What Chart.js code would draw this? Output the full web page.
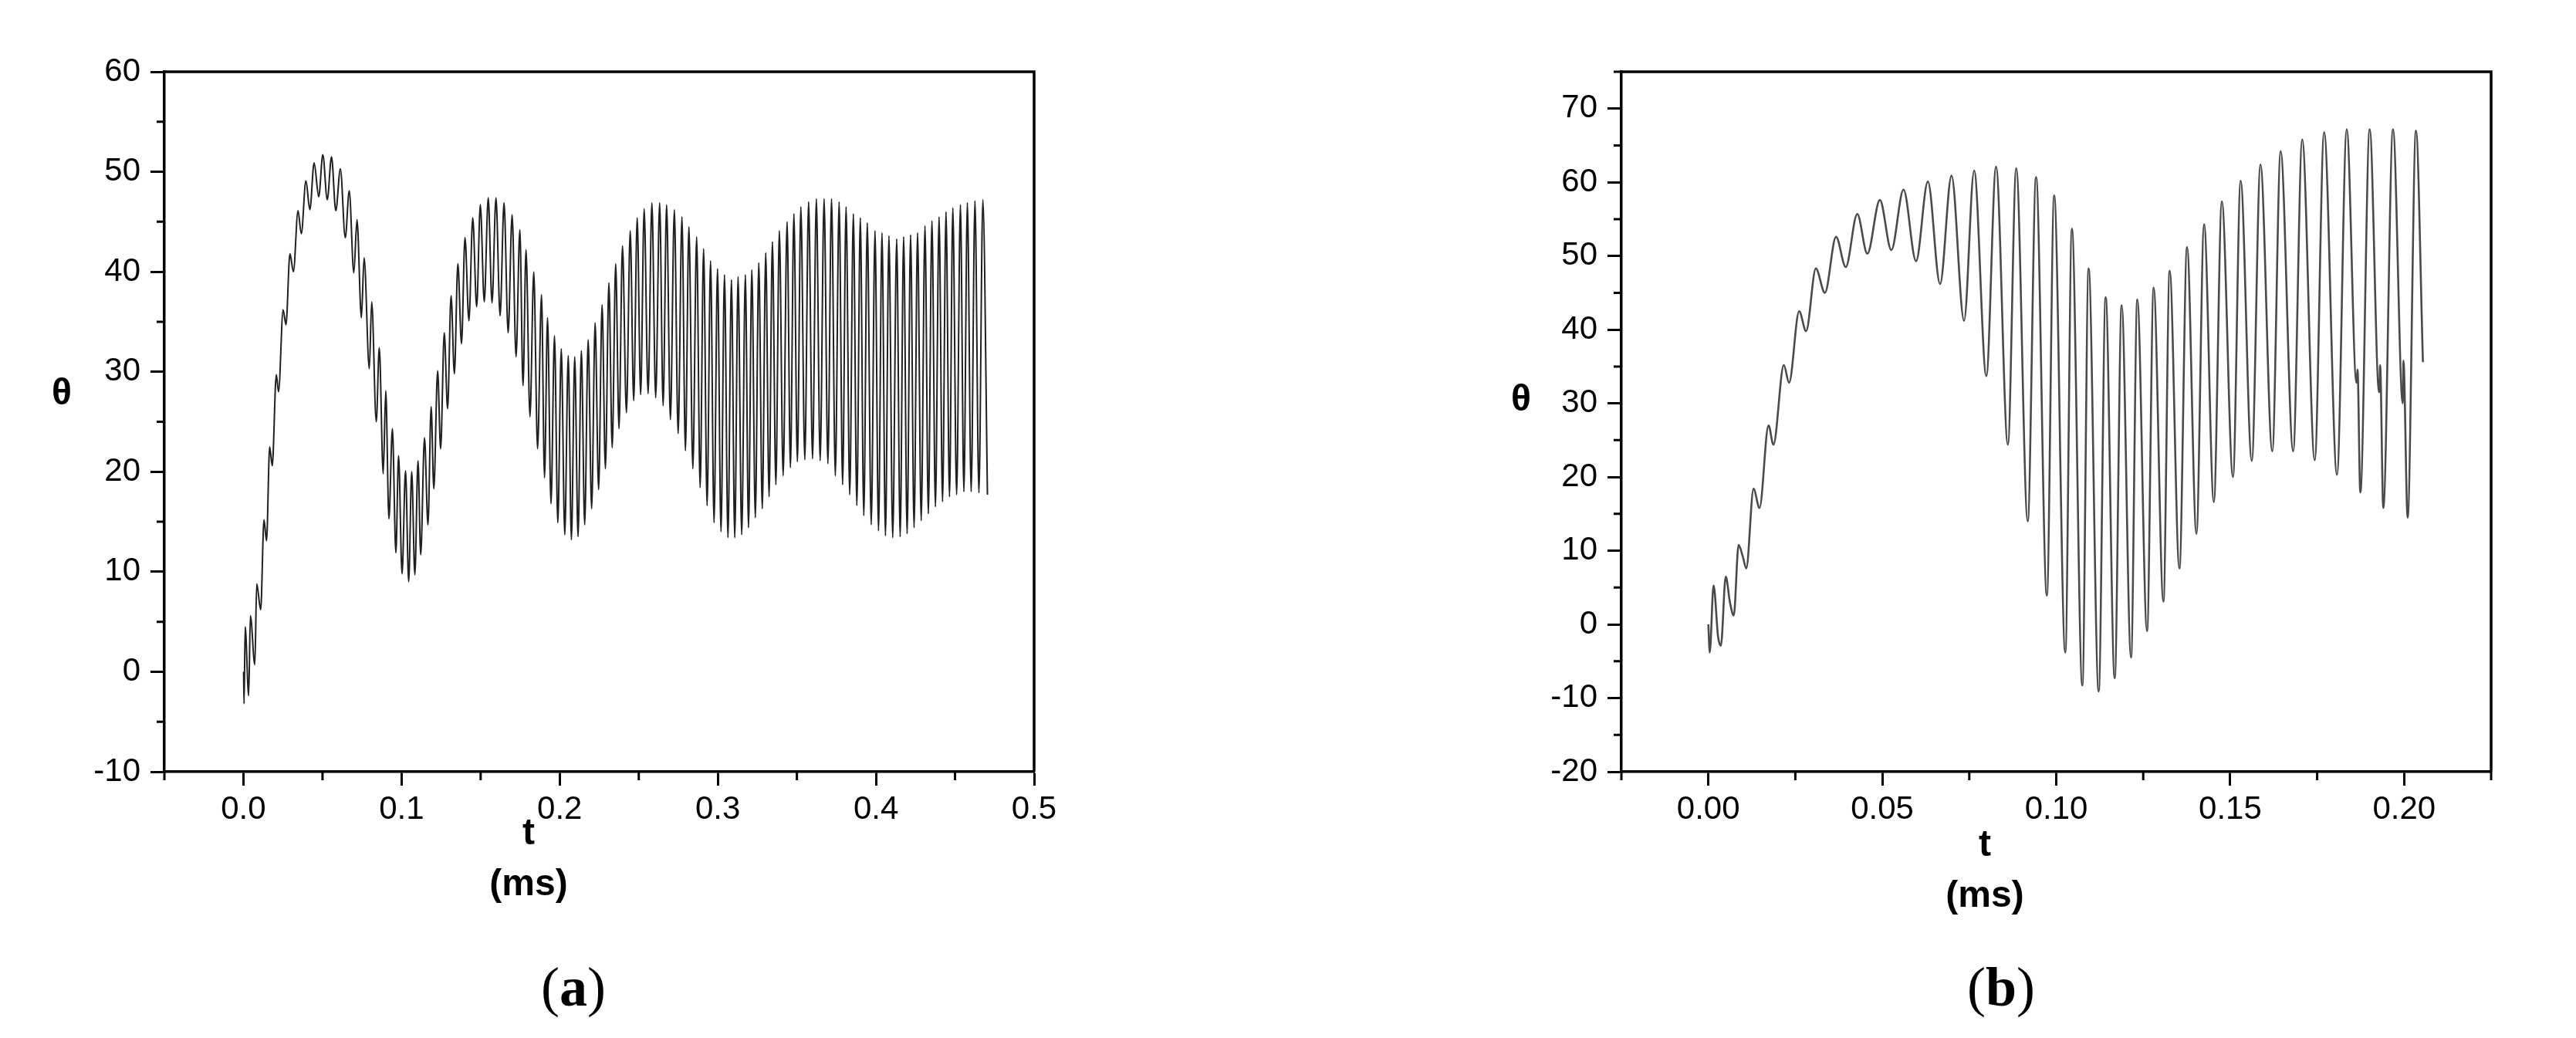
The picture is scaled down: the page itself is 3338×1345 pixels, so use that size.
<!DOCTYPE html>
<html>
<head>
<meta charset="utf-8">
<script src="https://cdn.jsdelivr.net/npm/chart.js@4.4.1/dist/chart.umd.min.js"></script>
<style>
  body { margin: 0; background: #fff; }
  #page { position: relative; width: 3338px; height: 1345px; overflow: hidden; background: #fff; }
  canvas { position: absolute; top: 0; }
  .lbl { position: absolute; font-family: 'Liberation Sans', Arial, sans-serif; font-weight: bold; font-size: 48px; color: #000; transform: translate(-50%, -50%); line-height: 1; white-space: nowrap; }
  .xt { text-align: center; line-height: 66px; transform: translateX(-50%); }
  .cap { position: absolute; font-family: 'Liberation Serif', 'Times New Roman', serif; font-size: 72px; color: #000; transform: translate(-50%, -50%); line-height: 1; }
</style>
</head>
<body>
<div id="page">
  <canvas id="chartA" width="1400" height="1120" style="left:0"></canvas>
  <canvas id="chartB" width="1420" height="1120" style="left:1860px"></canvas>
  <div class="lbl" style="left:80px;top:508px">θ</div>
  <div class="lbl xt" style="left:685px;top:1045px">t<br>(ms)</div>
  <div class="lbl" style="left:1971px;top:516px">θ</div>
  <div class="lbl xt" style="left:2572px;top:1060px">t<br>(ms)</div>
  <div class="cap" style="left:743px;top:1279px">(<b>a</b>)</div>
  <div class="cap" style="left:2593px;top:1279px">(<b>b</b>)</div>
</div>
<script>
// (a) time in ms, theta (peaks and troughs)
const timeA = [0.0001, 0.0004, 0.0011, 0.0033, 0.0044, 0.0072, 0.0084, 0.0109, 0.0130, 0.0146,
  0.0166, 0.0182, 0.0208, 0.0222, 0.0251, 0.0269, 0.0294, 0.0316, 0.0345, 0.0366,
  0.0395, 0.0420, 0.0447, 0.0476, 0.0502, 0.0530, 0.0557, 0.0584, 0.0613, 0.0644,
  0.0669, 0.0698, 0.0718, 0.0746, 0.0763, 0.0796, 0.0811, 0.0840, 0.0859, 0.0884,
  0.0900, 0.0920, 0.0942, 0.0964, 0.0981, 0.1003, 0.1025, 0.1045, 0.1064, 0.1084,
  0.1104, 0.1121, 0.1145, 0.1167, 0.1187, 0.1204, 0.1228, 0.1247, 0.1270, 0.1291,
  0.1313, 0.1334, 0.1356, 0.1379, 0.1401, 0.1426, 0.1450, 0.1475, 0.1498, 0.1523,
  0.1548, 0.1572, 0.1597, 0.1623, 0.1648, 0.1674, 0.1699, 0.1724, 0.1748, 0.1768,
  0.1787, 0.1812, 0.1836, 0.1860, 0.1885, 0.1904, 0.1923, 0.1945, 0.1967, 0.1988,
  0.2010, 0.2032, 0.2054, 0.2074, 0.2095, 0.2116, 0.2137, 0.2158, 0.2180, 0.2202,
  0.2224, 0.2246, 0.2268, 0.2289, 0.2311, 0.2332, 0.2354, 0.2375, 0.2397, 0.2422,
  0.2446, 0.2468, 0.2490, 0.2512, 0.2534, 0.2559, 0.2583, 0.2607, 0.2632, 0.2654,
  0.2676, 0.2700, 0.2725, 0.2749, 0.2773, 0.2795, 0.2817, 0.2842, 0.2866, 0.2888,
  0.2910, 0.2932, 0.2954, 0.2976, 0.2998, 0.3020, 0.3042, 0.3064, 0.3086, 0.3107,
  0.3128, 0.3151, 0.3174, 0.3194, 0.3215, 0.3237, 0.3259, 0.3281, 0.3303, 0.3324,
  0.3345, 0.3367, 0.3389, 0.3413, 0.3438, 0.3459, 0.3481, 0.3503, 0.3525, 0.3550,
  0.3574, 0.3599, 0.3623, 0.3647, 0.3672, 0.3696, 0.3719, 0.3743, 0.3767, 0.3789,
  0.3811, 0.3834, 0.3857, 0.3879, 0.3901, 0.3923, 0.3945, 0.3970, 0.3994, 0.4016,
  0.4038, 0.4060, 0.4082, 0.4106, 0.4131, 0.4153, 0.4175, 0.4197, 0.4219, 0.4241,
  0.4263, 0.4286, 0.4310, 0.4331, 0.4354, 0.4376, 0.4399, 0.4421, 0.4443, 0.4465,
  0.4486, 0.4510, 0.4534, 0.4556, 0.4578, 0.4602, 0.4626, 0.4651, 0.4676, 0.4705];
const thetaA = [0, -3.2, 4.5, -2.4, 5.6, 0.7, 8.8, 6.2, 15.2, 13.1,
  22.5, 20.6, 29.7, 28.0, 36.2, 34.7, 41.8, 40.0, 46.1, 43.8,
  49.1, 46.2, 50.9, 47.5, 51.7, 47.2, 51.5, 46.1, 50.3, 43.4,
  48.1, 39.9, 45.2, 35.4, 41.4, 30.3, 37.0, 25.0, 32.4, 19.8,
  28.1, 15.3, 24.3, 11.9, 21.6, 9.8, 20.1, 9.0, 20.0, 9.7,
  21.1, 11.7, 23.4, 14.7, 26.5, 18.3, 30.1, 22.3, 33.9, 26.3,
  37.6, 29.8, 40.8, 32.8, 43.4, 35.1, 45.4, 36.5, 46.7, 37.0,
  47.4, 36.9, 47.4, 35.6, 46.9, 33.9, 45.7, 31.5, 44.2, 28.6,
  42.2, 25.5, 40.0, 22.3, 37.7, 19.4, 35.4, 16.8, 33.6, 14.9,
  32.3, 13.7, 31.6, 13.2, 31.5, 13.5, 32.1, 14.7, 33.2, 16.3,
  34.9, 18.2, 36.7, 20.3, 38.9, 22.4, 40.8, 24.3, 42.6, 25.9,
  44.1, 27.1, 45.4, 27.7, 46.3, 27.8, 46.9, 27.4, 46.9, 26.6,
  46.7, 25.2, 46.2, 23.8, 45.5, 22.1, 44.5, 20.3, 43.5, 18.4,
  42.3, 16.6, 41.1, 14.9, 40.3, 14.0, 39.7, 13.4, 39.2, 13.4,
  39.5, 13.7, 39.7, 14.4, 40.2, 15.4, 40.9, 16.3, 41.9, 17.5,
  43.0, 18.7, 44.1, 19.6, 45.0, 20.4, 45.8, 21.0, 46.5, 21.2,
  47.0, 21.3, 47.3, 21.1, 47.3, 20.8, 47.3, 19.6, 47.0, 18.7,
  46.5, 17.7, 45.8, 16.6, 45.4, 15.6, 44.9, 14.7, 44.1, 14.1,
  43.9, 13.6, 43.6, 13.4, 43.3, 13.5, 43.5, 13.8, 43.7, 14.4,
  43.9, 15.1, 44.6, 15.8, 45.1, 16.5, 45.5, 17.0, 46.0, 17.5,
  46.4, 17.7, 46.7, 18.0, 46.9, 18.0, 47.1, 17.9, 47.2, 17.7];

// (b) time in ms, theta
const timeB = [0, 0.0004, 0.0015, 0.0028, 0.0036, 0.0050, 0.0062, 0.0073, 0.0087, 0.0099,
  0.0109, 0.0130, 0.0147, 0.0173, 0.0187, 0.0217, 0.0232, 0.0261, 0.0281, 0.0309,
  0.0335, 0.0367, 0.0395, 0.0428, 0.0457, 0.0493, 0.0526, 0.0561, 0.0597, 0.0631,
  0.0666, 0.0699, 0.0735, 0.0764, 0.0799, 0.0827, 0.0861, 0.0885, 0.0918, 0.0942,
  0.0973, 0.0994, 0.1026, 0.1045, 0.1075, 0.1093, 0.1122, 0.1142, 0.1168, 0.1188,
  0.1215, 0.1233, 0.1261, 0.1280, 0.1308, 0.1326, 0.1354, 0.1376, 0.1403, 0.1425,
  0.1453, 0.1476, 0.1508, 0.1530, 0.1562, 0.1587, 0.1621, 0.1645, 0.1681, 0.1707,
  0.1743, 0.1770, 0.1807, 0.1835, 0.1863, 0.1866, 0.1874, 0.1901, 0.1928, 0.1931,
  0.1940, 0.1968, 0.1996, 0.1998, 0.2010, 0.2034, 0.2054];
const thetaB = [0, -3.8, 5.3, -1.7, -2.9, 6.5, 3.0, 1.2, 10.8, 9.2,
  7.6, 18.4, 15.8, 27.0, 24.4, 35.2, 32.8, 42.5, 39.8, 48.3,
  45.0, 52.6, 48.5, 55.7, 50.3, 57.6, 50.8, 59.0, 49.3, 60.1,
  46.2, 60.9, 41.2, 61.6, 33.7, 62.1, 24.4, 61.9, 14.0, 60.7,
  3.9, 58.2, -3.8, 53.7, -8.3, 48.3, -9.1, 44.4, -7.3, 43.3,
  -4.5, 44.1, -0.9, 45.7, 3.1, 48.0, 7.6, 51.2, 12.3, 54.3,
  16.6, 57.4, 20.0, 60.2, 22.2, 62.4, 23.5, 64.2, 23.5, 65.8,
  22.3, 66.8, 20.3, 67.2, 32.8, 34.6, 17.9, 67.2, 31.5, 35.2,
  15.8, 67.2, 30.0, 35.8, 14.5, 67.0, 35.6];

// tick labels and minor tick positions
const xTicksA = [0, 0.1, 0.2, 0.3, 0.4, 0.5];
const yTicksA = [-10, 0, 10, 20, 30, 40, 50, 60];
const xMinorA = [-0.05, 0.05, 0.15, 0.25, 0.35, 0.45];
const yMinorA = [-5, 5, 15, 25, 35, 45, 55];
const xTicksB = [0, 0.05, 0.10, 0.15, 0.20];
const yTicksB = [-20, -10, 0, 10, 20, 30, 40, 50, 60, 70];
const xMinorB = [-0.025, 0.025, 0.075, 0.125, 0.175, 0.225];
const yMinorB = [-15, -5, 5, 15, 25, 35, 45, 55, 65, 75];

const tickFont = { family: "'Liberation Sans', Arial, sans-serif", size: 42 };

// closes the box (top + right) and adds the short minor ticks
const frameTicks = {
  id: 'frameTicks',
  afterDraw(chart, args, opts) {
    const { ctx, chartArea: a, scales } = chart;
    ctx.save();
    ctx.strokeStyle = '#000';
    ctx.lineWidth = 3.5;
    ctx.beginPath();
    ctx.moveTo(a.left, a.top);
    ctx.lineTo(a.right, a.top);
    ctx.lineTo(a.right, a.bottom);
    ctx.stroke();
    ctx.lineWidth = 3;
    ctx.beginPath();
    opts.x.forEach(v => {
      const px = scales.x.getPixelForValue(v);
      ctx.moveTo(px, a.bottom);
      ctx.lineTo(px, a.bottom + 11);
    });
    opts.y.forEach(v => {
      const py = scales.y.getPixelForValue(v);
      ctx.moveTo(a.left, py);
      ctx.lineTo(a.left - 10, py);
    });
    ctx.stroke();
    ctx.restore();
  }
};

function axis(min, max, ticks, fmt, fit, pad) {
  return {
    type: 'linear',
    min: min,
    max: max,
    afterBuildTicks: s => { s.ticks = ticks.map(v => ({ value: v })); },
    afterFit: fit,
    border: { display: true, color: '#000', width: 3.5 },
    grid: { drawOnChartArea: false, drawTicks: true, tickLength: 18, tickWidth: 3, tickColor: '#000' },
    ticks: { color: '#000', font: tickFont, padding: pad, maxRotation: 0, autoSkip: false, callback: fmt }
  };
}

function makeChart(id, times, thetas, cfg) {
  return new Chart(document.getElementById(id), {
    type: 'line',
    data: {
      datasets: [{
        data: times.map((t, i) => ({ x: t, y: thetas[i] })),
        borderColor: cfg.color,
        borderWidth: cfg.width,
        pointRadius: 0,
        fill: false,
        cubicInterpolationMode: 'monotone'
      }]
    },
    options: {
      responsive: false,
      animation: false,
      layout: { padding: { top: 93, right: cfg.right, left: 0, bottom: 0 } },
      plugins: {
        legend: { display: false },
        tooltip: { enabled: false },
        frameTicks: { x: cfg.xMinor, y: cfg.yMinor }
      },
      scales: {
        x: axis(cfg.xMin, cfg.xMax, cfg.xTicks, cfg.xFmt, s => { s.height = 120; }, 6),
        y: axis(cfg.yMin, cfg.yMax, cfg.yTicks, v => String(v), s => { s.width = cfg.yWidth; }, 13)
      }
    },
    plugins: [frameTicks]
  });
}

makeChart('chartA', timeA, thetaA, {
  color: '#202020', width: 2, right: 60, yWidth: 213,
  xMin: -0.05, xMax: 0.5, xTicks: xTicksA, xFmt: v => v.toFixed(1),
  yMin: -10, yMax: 60, yTicks: yTicksA, xMinor: xMinorA, yMinor: yMinorA
});

makeChart('chartB', timeB, thetaB, {
  color: '#4a4a4a', width: 2.6, right: 52, yWidth: 241,
  xMin: -0.025, xMax: 0.225, xTicks: xTicksB, xFmt: v => v.toFixed(2),
  yMin: -20, yMax: 75, yTicks: yTicksB, xMinor: xMinorB, yMinor: yMinorB
});
</script>
</body>
</html>
